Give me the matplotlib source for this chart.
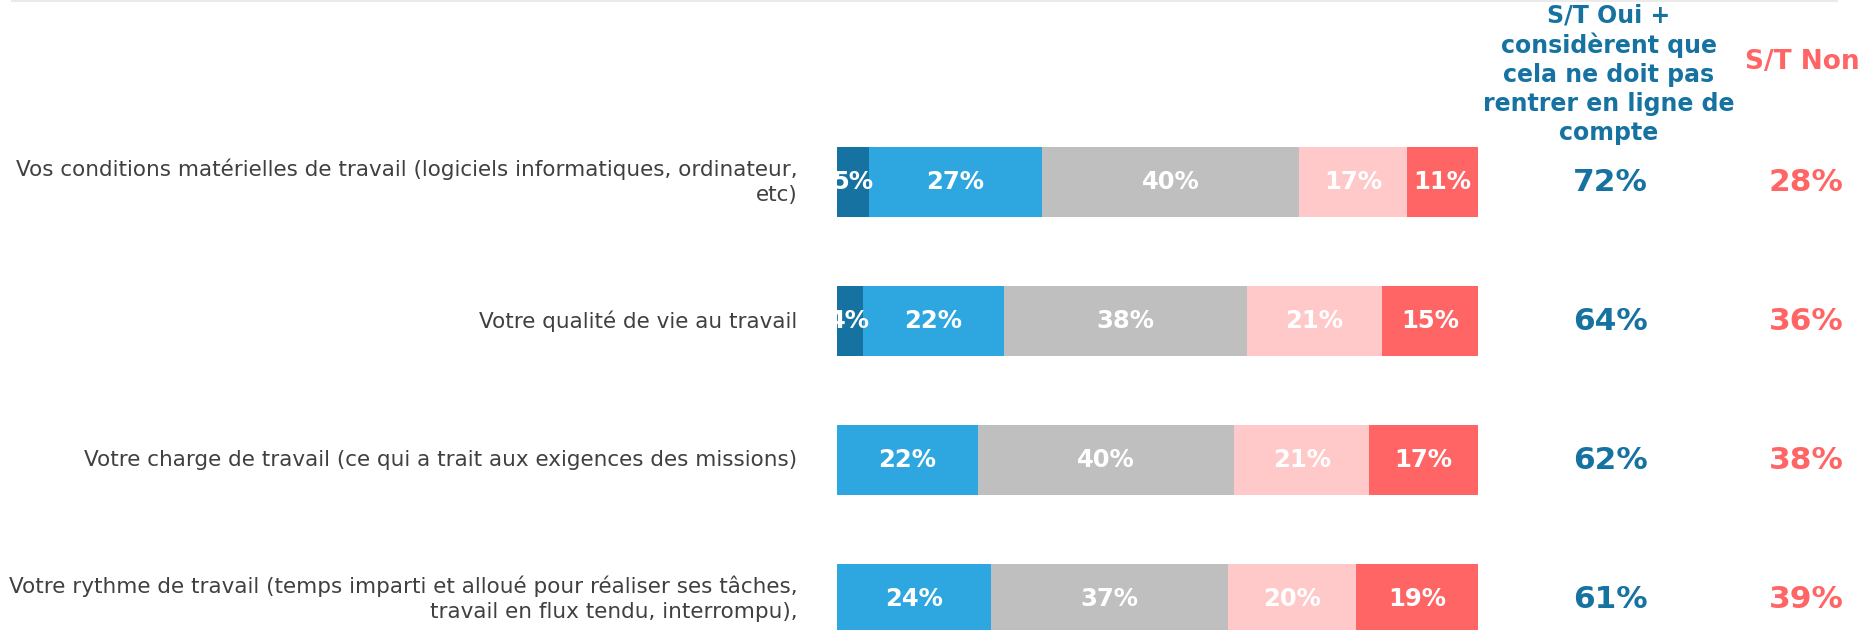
import matplotlib.pyplot as plt
from matplotlib.lines import Line2D

# Data
labels = [
    "Vos conditions matérielles de travail (logiciels informatiques, ordinateur,\netc)",
    "Votre qualité de vie au travail",
    "Votre charge de travail (ce qui a trait aux exigences des missions)",
    "Votre rythme de travail (temps imparti et alloué pour réaliser ses tâches,\ntravail en flux tendu, interrompu),",
]
oui_tout_fait = [5, 4, 0, 0]
oui_plutot = [27, 22, 22, 24]
ne_doit_pas = [40, 38, 40, 37]
non_plutot = [17, 21, 21, 20]
non_pas_du_tout = [11, 15, 17, 19]
st_oui = [72, 64, 62, 61]
st_non = [28, 36, 38, 39]

series = [oui_tout_fait, oui_plutot, ne_doit_pas, non_plutot, non_pas_du_tout]
colors = ['#1672a0', '#2ea7e1', '#bfbfbf', '#ffc9ca', '#ff6565']

DARK_BLUE = '#1672a0'
RED = '#ff6565'
TEXT_GREY = '#404040'

fig = plt.figure(figsize=(18.6, 6.3), dpi=100)
ax = fig.add_axes([837 / 1860, 0, 641 / 1860, 1])

ypos = list(range(len(labels)))
left = [0] * len(labels)
for vals, color in zip(series, colors):
    ax.barh(ypos, vals, left=left, height=0.5, color=color, linewidth=0)
    for y, v, l in zip(ypos, vals, left):
        if v > 0:
            ax.text(l + v / 2, y, f'{v}%', ha='center', va='center',
                    color='white', fontsize=17.5, fontweight='bold')
    left = [a + b for a, b in zip(left, vals)]

# category labels on the left
for y, lab in zip(ypos, labels):
    ax.text(-6.2, y, lab, ha='right', va='center', color=TEXT_GREY,
            fontsize=15.5, linespacing=1.3, clip_on=False)

# summary columns on the right
for y, o, n in zip(ypos, st_oui, st_non):
    ax.text(120.6, y, f'{o}%', ha='center', va='center', color=DARK_BLUE,
            fontsize=22.5, fontweight='bold', clip_on=False)
    ax.text(151.2, y, f'{n}%', ha='center', va='center', color=RED,
            fontsize=22.5, fontweight='bold', clip_on=False)

ax.text(120.4, -0.775, "S/T Oui +\nconsidèrent que\ncela ne doit pas\nrentrer en ligne de\ncompte",
        ha='center', va='center', color=DARK_BLUE, fontsize=17, fontweight='bold',
        linespacing=1.27, clip_on=False)
ax.text(150.6, -0.86, "S/T Non", ha='center', va='center', color=RED,
        fontsize=19, fontweight='bold', clip_on=False)

ax.set_xlim(0, 100)
ax.set_ylim((630 - 182) / 139, -182 / 139)
ax.axis('off')

# thin grey rule along the top edge
fig.add_artist(Line2D([12 / 1860, 1837 / 1860], [0.998, 0.998],
                      color='#ebebeb', linewidth=1.5))

plt.savefig('out.png', dpi=100)
